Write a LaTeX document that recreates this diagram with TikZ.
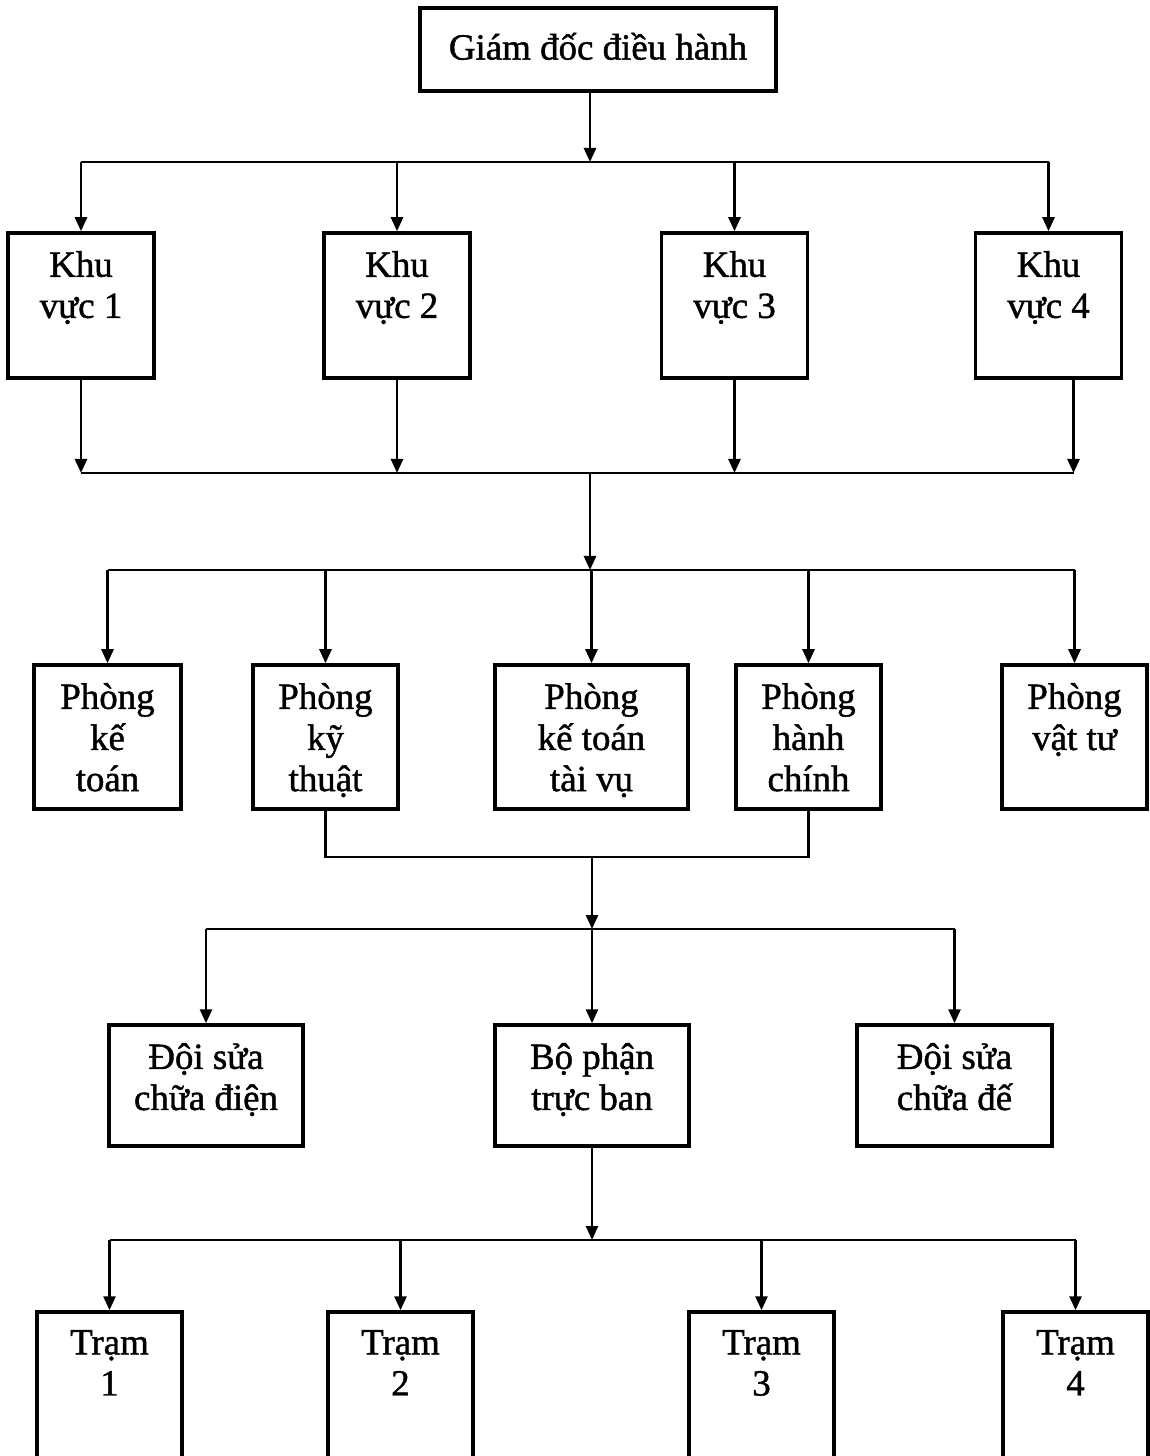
\documentclass[tikz,border=0pt]{standalone}
\usepackage{fontspec}
\setmainfont{Liberation Serif}[FakeBold=1.2]
\usetikzlibrary{arrows.meta}

\begin{document}
\begin{tikzpicture}[line width=0.75pt, >={Triangle[length=1.4mm,width=1.2mm]},
    box/.style={draw, line width=1pt, inner sep=0pt},
    txt/.style={anchor=north, align=center, inner sep=0pt, yshift=-5.3pt,
      font=\fontsize{10.5}{11.7}\selectfont, execute at begin node={\rule{0pt}{9.5pt}}}]
  \useasboundingbox (0,0) rectangle (11.5,-14.56);
  % Nodes
  \node[box, minimum width=3.56cm, minimum height=0.83cm] (gd) at (5.98,-0.495) {};
  \node[txt] (gdt) at (gd.north) {Giám đốc điều hành};

  \node[box, minimum width=1.46cm, minimum height=1.45cm] (k1) at (0.81,-3.055) {};
  \node[box, minimum width=1.46cm, minimum height=1.45cm] (k2) at (3.97,-3.055) {};
  \node[box, minimum width=1.46cm, minimum height=1.45cm] (k3) at (7.345,-3.055) {};
  \node[box, minimum width=1.46cm, minimum height=1.45cm] (k4) at (10.485,-3.055) {};
  \node[txt] (k1t) at (k1.north) {Khu\\vực 1};
  \node[txt] (k2t) at (k2.north) {Khu\\vực 2};
  \node[txt] (k3t) at (k3.north) {Khu\\vực 3};
  \node[txt] (k4t) at (k4.north) {Khu\\vực 4};

  \node[box, minimum width=1.47cm, minimum height=1.44cm] (p1) at (1.075,-7.37) {};
  \node[box, minimum width=1.45cm, minimum height=1.44cm] (p2) at (3.255,-7.37) {};
  \node[box, minimum width=1.93cm, minimum height=1.44cm] (p3) at (5.915,-7.37) {};
  \node[box, minimum width=1.45cm, minimum height=1.44cm] (p4) at (8.085,-7.37) {};
  \node[box, minimum width=1.45cm, minimum height=1.44cm] (p5) at (10.745,-7.37) {};
  \node[txt] (p1t) at (p1.north) {Phòng\\kế\\toán};
  \node[txt] (p2t) at (p2.north) {Phòng\\kỹ\\thuật};
  \node[txt] (p3t) at (p3.north) {Phòng\\kế toán\\tài vụ};
  \node[txt] (p4t) at (p4.north) {Phòng\\hành\\chính};
  \node[txt] (p5t) at (p5.north) {Phòng\\vật tư};

  \node[box, minimum width=1.94cm, minimum height=1.21cm] (d1) at (2.06,-10.855) {};
  \node[box, minimum width=1.94cm, minimum height=1.21cm] (d2) at (5.92,-10.855) {};
  \node[box, minimum width=1.95cm, minimum height=1.21cm] (d3) at (9.545,-10.855) {};
  \node[txt] (d1t) at (d1.north) {Đội sửa\\chữa điện};
  \node[txt] (d2t) at (d2.north) {Bộ phận\\trực ban};
  \node[txt] (d3t) at (d3.north) {Đội sửa\\chữa đế};

  \node[box, minimum width=1.45cm, minimum height=1.6cm] (t1) at (1.095,-13.92) {};
  \node[box, minimum width=1.45cm, minimum height=1.6cm] (t2) at (4.005,-13.92) {};
  \node[box, minimum width=1.45cm, minimum height=1.6cm] (t3) at (7.615,-13.92) {};
  \node[box, minimum width=1.45cm, minimum height=1.6cm] (t4) at (10.755,-13.92) {};
  \node[txt] (t1t) at (t1.north) {Trạm\\1};
  \node[txt] (t2t) at (t2.north) {Trạm\\2};
  \node[txt] (t3t) at (t3.north) {Trạm\\3};
  \node[txt] (t4t) at (t4.north) {Trạm\\4};

  % Bus points
  \coordinate (b1) at (5.90,-1.62);
  \coordinate (b2) at (5.90,-4.73);
  \coordinate (b3) at (5.90,-5.70);
  \coordinate (b4) at (5.92,-8.57);
  \coordinate (b5) at (5.92,-9.29);
  \coordinate (b6) at (5.92,-12.40);
  \coordinate (k4out) at ([xshift=2.5mm]k4.south);

  % Arrows
  \draw[->] (gd.south -| b1) -- (b1);
  \draw (k1.north |- b1) -- (k4.north |- b1);
  \foreach \k in {k1,k2,k3,k4}
    \draw[->] (\k.north |- b1) -- (\k.north);

  \foreach \k in {k1,k2,k3}
    \draw[->] (\k.south) -- (\k.south |- b2);
  \draw[->] (k4out) -- (k4out |- b2);
  \draw (k1.south |- b2) -- (k4out |- b2);

  \draw[->] (b2) -- (b3);
  \draw (p1.north |- b3) -- (p5.north |- b3);
  \foreach \p in {p1,p2,p3,p4,p5}
    \draw[->] (\p.north |- b3) -- (\p.north);

  \draw (p2.south) -- (p2.south |- b4) -- (p4.south |- b4) -- (p4.south);
  \draw[->] (b4) -- (b5);
  \draw (d1.north |- b5) -- (d3.north |- b5);
  \foreach \d in {d1,d2,d3}
    \draw[->] (\d.north |- b5) -- (\d.north);

  \draw[->] (d2.south) -- (b6);
  \draw (t1.north |- b6) -- (t4.north |- b6);
  \foreach \t in {t1,t2,t3,t4}
    \draw[->] (\t.north |- b6) -- (\t.north);
\end{tikzpicture}
\end{document}
